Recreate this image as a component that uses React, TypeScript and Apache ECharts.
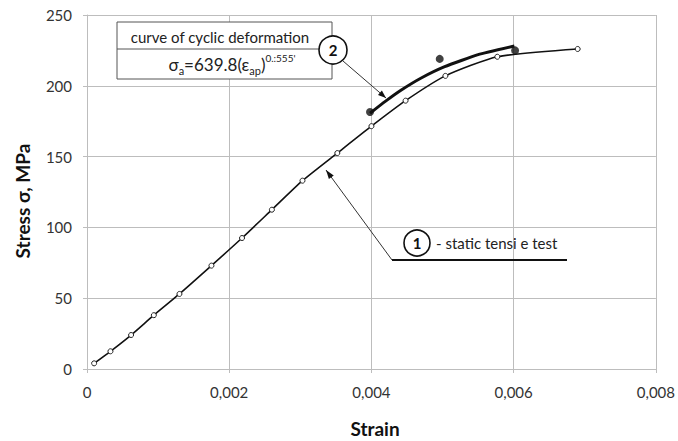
import React, { useEffect, useRef } from "react";
import * as echarts from "echarts";

const staticStrain = [0.0001, 0.00033, 0.00062, 0.00094, 0.0013, 0.00175, 0.00218, 0.0026, 0.00303, 0.00352, 0.004, 0.00448, 0.00504, 0.00577, 0.0069];
const staticStress = [4, 12.5, 24, 38, 53, 73, 92.5, 112.5, 133, 152.5, 171.5, 189.5, 207, 220.5, 226];

const cyclicCurveStrain = [0.00398, 0.00419, 0.00442, 0.0047, 0.00503, 0.0055, 0.00601];
const cyclicCurveStress = [180.6, 188.8, 197, 205.5, 213.5, 222, 228.1];

const cyclicPointStrain = [0.00398, 0.00496, 0.00602];
const cyclicPointStress = [181.5, 219, 225];

const xTicks = [0, 0.002, 0.004, 0.006, 0.008];
const yTicks = [0, 50, 100, 150, 200, 250];

const FONT = "Lato";

function arrowHead(x1: number, y1: number, x2: number, y2: number, len: number, half: number) {
  const a = Math.atan2(y2 - y1, x2 - x1);
  const bx = x2 - len * Math.cos(a);
  const by = y2 - len * Math.sin(a);
  const px = -Math.sin(a) * half;
  const py = Math.cos(a) * half;
  return [
    [x2, y2],
    [bx + px, by + py],
    [bx - px, by - py],
  ];
}

export default function App() {
  const ref = useRef<HTMLDivElement>(null);
  useEffect(() => {
    if (!ref.current) return;
    const chart = echarts.init(ref.current, undefined, { renderer: "svg" });
    const zip = (xs: number[], ys: number[]) => xs.map((x, i) => [x, ys[i]]);
    const gridColor = "#bdbdbd";
    chart.setOption({
      animation: false,
      backgroundColor: "#ffffff",
      grid: { left: 87, right: 19, top: 15, bottom: 72, containLabel: false },
      xAxis: {
        type: "value",
        min: xTicks[0],
        max: xTicks[xTicks.length - 1],
        interval: 0.002,
        axisLine: { show: true, lineStyle: { color: gridColor, width: 1 } },
        axisTick: { show: true, length: 4, lineStyle: { color: gridColor } },
        splitLine: { show: true, lineStyle: { color: gridColor, width: 1 } },
        axisLabel: {
          color: "#333",
          fontFamily: FONT,
          fontSize: 15,
          margin: 15,
          formatter: (v: number) => (v === 0 ? "0" : v.toFixed(3).replace(".", ",")),
        },
      },
      yAxis: {
        type: "value",
        min: yTicks[0],
        max: yTicks[yTicks.length - 1],
        interval: 50,
        axisLine: { show: true, lineStyle: { color: gridColor, width: 1 } },
        axisTick: { show: true, length: 4, lineStyle: { color: gridColor } },
        splitLine: { show: true, lineStyle: { color: gridColor, width: 1 } },
        axisLabel: { color: "#333", fontFamily: FONT, fontSize: 15, margin: 15 },
      },
      series: [
        {
          type: "line",
          data: zip(staticStrain, staticStress),
          smooth: 0.2,
          symbol: "circle",
          symbolSize: 5,
          showSymbol: true,
          lineStyle: { color: "#111", width: 1.6 },
          itemStyle: { color: "#fff", borderColor: "#222", borderWidth: 1 },
          z: 3,
        },
        {
          type: "line",
          data: zip(cyclicCurveStrain, cyclicCurveStress),
          smooth: 0.15,
          showSymbol: false,
          symbol: "none",
          lineStyle: { color: "#111", width: 3 },
          z: 4,
        },
        {
          type: "scatter",
          data: zip(cyclicPointStrain, cyclicPointStress),
          symbol: "circle",
          symbolSize: 8,
          itemStyle: { color: "#111" },
          z: 5,
        },
      ],
      graphic: [
        {
          type: "text",
          x: 22,
          y: 201,
          rotation: Math.PI / 2,
          style: {
            text: "Stress σ, MPa",
            fontFamily: FONT,
            fontWeight: "bold",
            fontSize: 19,
            fill: "#111",
            align: "center",
            verticalAlign: "middle",
          },
        },
        {
          type: "text",
          x: 375,
          y: 428,
          style: {
            text: "Strain",
            fontFamily: FONT,
            fontWeight: "bold",
            fontSize: 19,
            fill: "#111",
            align: "center",
            verticalAlign: "middle",
          },
        },
        {
          type: "rect",
          shape: { x: 117, y: 22, width: 215, height: 57 },
          style: { fill: "#fff", stroke: "#555", lineWidth: 1 },
          z: 10,
        },
        {
          type: "line",
          shape: { x1: 117, y1: 49, x2: 332, y2: 49 },
          style: { stroke: "#555", lineWidth: 1 },
          z: 11,
        },
        {
          type: "text",
          x: 220,
          y: 37,
          style: {
            text: "curve of cyclic deformation",
            fontFamily: FONT,
            fontSize: 15,
            fill: "#222",
            align: "center",
            verticalAlign: "middle",
          },
          z: 11,
        },
        {
          type: "text",
          x: 232,
          y: 64,
          style: {
            text: "{n|σ}{s|a}{n|=639.8(ε}{s|ap}{n|)}{p|0.:555'}",
            fontFamily: FONT,
            fill: "#222",
            align: "center",
            verticalAlign: "middle",
            rich: {
              n: { fontFamily: FONT, fontSize: 17, fill: "#222", verticalAlign: "middle" },
              s: { fontFamily: FONT, fontSize: 11, fill: "#222", padding: [12, 0, 0, 0] },
              p: { fontFamily: FONT, fontSize: 10, fill: "#222", padding: [0, 0, 12, 0] },
            },
          },
          z: 11,
        },
        {
          type: "line",
          shape: { x1: 343, y1: 61, x2: 386, y2: 98 },
          style: { stroke: "#333", lineWidth: 1 },
          z: 11,
        },
        {
          type: "polygon",
          shape: { points: arrowHead(343, 61, 386, 98, 8, 3) },
          style: { fill: "#111" },
          z: 11,
        },
        {
          type: "circle",
          shape: { cx: 333, cy: 50, r: 14 },
          style: { fill: "#fff", stroke: "#111", lineWidth: 1.6 },
          z: 12,
        },
        {
          type: "text",
          x: 333,
          y: 50,
          style: {
            text: "2",
            fontFamily: FONT,
            fontWeight: "bold",
            fontSize: 15,
            fill: "#111",
            align: "center",
            verticalAlign: "middle",
          },
          z: 13,
        },
        {
          type: "line",
          shape: { x1: 392, y1: 260, x2: 326, y2: 170 },
          style: { stroke: "#333", lineWidth: 1 },
          z: 11,
        },
        {
          type: "polygon",
          shape: { points: arrowHead(392, 260, 326, 170, 9, 3) },
          style: { fill: "#111" },
          z: 11,
        },
        {
          type: "line",
          shape: { x1: 392, y1: 260, x2: 567, y2: 260 },
          style: { stroke: "#111", lineWidth: 2 },
          z: 11,
        },
        {
          type: "circle",
          shape: { cx: 417, cy: 243, r: 13 },
          style: { fill: "#fff", stroke: "#111", lineWidth: 1.6 },
          z: 12,
        },
        {
          type: "text",
          x: 417,
          y: 243,
          style: {
            text: "1",
            fontFamily: FONT,
            fontWeight: "bold",
            fontSize: 15,
            fill: "#111",
            align: "center",
            verticalAlign: "middle",
          },
          z: 13,
        },
        {
          type: "text",
          x: 436,
          y: 243,
          style: {
            text: "- static tensi e test",
            fontFamily: FONT,
            fontSize: 15,
            fill: "#222",
            align: "left",
            verticalAlign: "middle",
          },
          z: 13,
        },
      ],
    });
    return () => chart.dispose();
  }, []);
  return <div ref={ref} style={{ width: 678, height: 441, position: "absolute", left: 0, top: 0 }} />;
}
